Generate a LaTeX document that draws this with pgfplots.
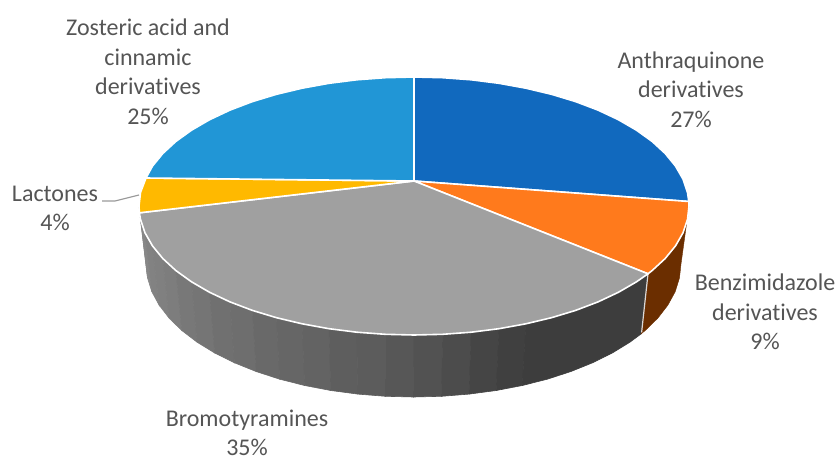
\documentclass[border=0pt]{standalone}
\usepackage{pgfplots}
\pgfplotsset{compat=1.18}
\usepackage{fontspec}
\setmainfont{Carlito}[Ligatures=NoCommon]
\definecolor{sliceAnthra}{HTML}{1169BE}
\definecolor{sliceBenz}{HTML}{FF7A1C}
\definecolor{wallBenz}{HTML}{6B2E00}
\definecolor{sliceBromo}{HTML}{A0A0A0}
\definecolor{sliceLact}{HTML}{FFB900}
\definecolor{sliceZost}{HTML}{2196D6}
\definecolor{labelText}{HTML}{555555}
\tikzset{lbl/.style={font=\fontsize{24}{29.5}\selectfont, text=labelText, align=center, inner sep=0pt}}
\pgfplotsset{
  wall/.style={fill=black!#1, draw=black!#1, line width=0.6pt},
  top/.style={fill=#1, draw=white, line width=1.6pt, line join=round},
}
\begin{document}
\begin{tikzpicture}
\path[use as bounding box] (0,0) rectangle (840pt,458pt);
\begin{axis}[
  at={(0,0)}, anchor=south west,
  width=840pt, height=458pt, scale only axis,
  xmin=0, xmax=840, ymin=0, ymax=458, y dir=reverse,
  hide axis, clip=false,
]
% Side wall of the Bromotyramines slice, darkening from left to right
\addplot[wall=46] coordinates {(139.0,206.0)(146.0,264.0)(147.5,277.9)(140.5,219.5)} --cycle;
\addplot[wall=47] coordinates {(140.5,219.5)(147.5,277.9)(151.8,291.7)(145.0,232.8)} --cycle;
\addplot[wall=49] coordinates {(145.0,232.8)(151.8,291.7)(159.1,305.1)(152.5,245.9)} --cycle;
\addplot[wall=50] coordinates {(152.5,245.9)(159.1,305.1)(169.1,318.1)(162.8,258.5)} --cycle;
\addplot[wall=51] coordinates {(162.8,258.5)(169.1,318.1)(181.8,330.5)(175.8,270.5)} --cycle;
\addplot[wall=53] coordinates {(175.8,270.5)(181.8,330.5)(197.1,342.2)(191.5,281.8)} --cycle;
\addplot[wall=54] coordinates {(191.5,281.8)(197.1,342.2)(214.7,353.0)(209.6,292.3)} --cycle;
\addplot[wall=56] coordinates {(209.6,292.3)(214.7,353.0)(234.5,362.8)(230.0,301.9)} --cycle;
\addplot[wall=57] coordinates {(230.0,301.9)(234.5,362.8)(256.3,371.6)(252.4,310.4)} --cycle;
\addplot[wall=59] coordinates {(252.4,310.4)(256.3,371.6)(279.7,379.2)(276.5,317.7)} --cycle;
\addplot[wall=60] coordinates {(276.5,317.7)(279.7,379.2)(304.7,385.5)(302.1,323.8)} --cycle;
\addplot[wall=61] coordinates {(302.1,323.8)(304.7,385.5)(330.8,390.5)(329.0,328.7)} --cycle;
\addplot[wall=63] coordinates {(329.0,328.7)(330.8,390.5)(357.9,394.1)(356.8,332.2)} --cycle;
\addplot[wall=64] coordinates {(356.8,332.2)(357.9,394.1)(385.5,396.3)(385.3,334.3)} --cycle;
\addplot[wall=66] coordinates {(385.3,334.3)(385.5,396.3)(413.5,397.0)(414.0,335.0)} --cycle;
\addplot[wall=68] coordinates {(414.0,335.0)(413.5,397.0)(441.5,396.3)(442.7,334.3)} --cycle;
\addplot[wall=70] coordinates {(442.7,334.3)(441.5,396.3)(469.1,394.1)(471.2,332.2)} --cycle;
\addplot[wall=73] coordinates {(471.2,332.2)(469.1,394.1)(496.2,390.5)(499.0,328.7)} --cycle;
\addplot[wall=75] coordinates {(499.0,328.7)(496.2,390.5)(522.3,385.5)(525.9,323.8)} --cycle;
\addplot[wall=76] coordinates {(525.9,323.8)(522.3,385.5)(547.3,379.2)(570.7,371.6)(592.5,362.8)(612.3,353.0)(629.9,342.2)(641.1,333.9)
  (648.0,273.8)(636.5,281.8)(618.4,292.3)(598.0,301.9)(575.6,310.4)(551.5,317.7)} --cycle;
% Side wall of the Benzimidazole slice
\addplot[fill=wallBenz, draw=wallBenz, line width=0.4pt] coordinates {
  (689.0,206.0)(681.0,264.0)(679.5,277.9)(675.2,291.7)(667.9,305.1)(657.9,318.1)(645.2,330.5)(641.1,333.9)
  (648.0,273.8)(652.2,270.5)(665.2,258.5)(675.5,245.9)(683.0,232.8)(687.5,219.5)} --cycle;
\addplot[draw=white!85!black, line width=1.2pt] coordinates {(648.0,273.8)(641.6,332.5)};
% Top faces of the five slices
\addplot[top=sliceAnthra] coordinates {(414,181)(414,77)(442.7,77.7)(471.2,79.8)(499.0,83.3)(525.9,88.2)(551.5,94.3)(575.6,101.6)(598.0,110.1)
  (618.4,119.7)(636.5,130.2)(652.2,141.5)(665.2,153.5)(675.5,166.1)(683.0,179.2)(687.5,192.5)(688.8,201.5)} --cycle;
\addplot[top=sliceBenz] coordinates {(414,181)(688.8,201.5)(689.0,206.0)(687.5,219.5)(683.0,232.8)(675.5,245.9)(665.2,258.5)(652.2,270.5)(648.0,273.8)} --cycle;
\addplot[top=sliceBromo] coordinates {(414,181)(648.0,273.8)(636.5,281.8)(618.4,292.3)(598.0,301.9)(575.6,310.4)(551.5,317.7)(525.9,323.8)(499.0,328.7)
  (471.2,332.2)(442.7,334.3)(414.0,335.0)(385.3,334.3)(356.8,332.2)(329.0,328.7)(302.1,323.8)(276.5,317.7)(252.4,310.4)(230.0,301.9)
  (209.6,292.3)(191.5,281.8)(175.8,270.5)(162.8,258.5)(152.5,245.9)(145.0,232.8)(140.5,219.5)(139.4,212.8)} --cycle;
\addplot[top=sliceLact] coordinates {(414,181)(139.4,212.8)(139.0,206.0)(140.5,192.5)(146,178)} --cycle;
\addplot[top=sliceZost] coordinates {(414,181)(146,178)(152.5,166.1)(162.8,153.5)(175.8,141.5)(191.5,130.2)(209.6,119.7)(230.0,110.1)(252.4,101.6)
  (276.5,94.3)(302.1,88.2)(329.0,83.3)(356.8,79.8)(385.3,77.7)(414,77)} --cycle;
% Leader line of the Lactones label
\addplot[draw=black!40, line width=1.2pt] coordinates {(102,201)(115,201)(139,195)};
% Data labels
\node[lbl] at (axis cs:148,72) {Zosteric acid and\\cinnamic\\derivatives\\25\%};
\node[lbl] at (axis cs:691,89.5) {Anthraquinone\\derivatives\\27\%};
\node[lbl] at (axis cs:765,312) {Benzimidazole\\derivatives\\9\%};
\node[lbl] at (axis cs:55,208.5) {Lactones\\4\%};
\node[lbl] at (axis cs:247,433) {Bromotyramines\\35\%};
\end{axis}
\end{tikzpicture}
\end{document}
